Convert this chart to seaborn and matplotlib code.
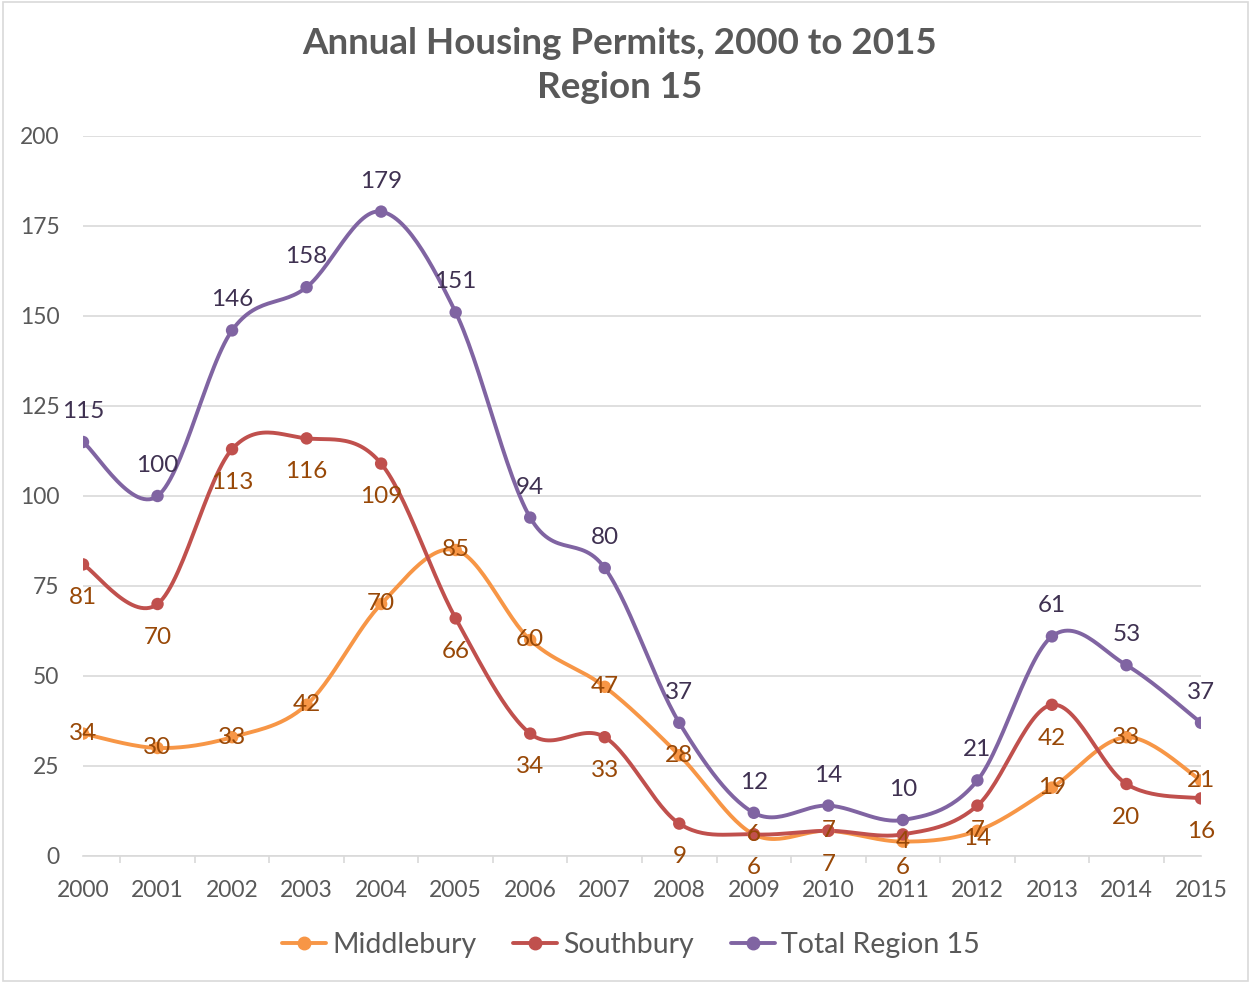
# Annual housing permits, Region 15
import numpy as np
import pandas as pd
import matplotlib
matplotlib.use('Agg')
import matplotlib.pyplot as plt
from matplotlib.lines import Line2D
from matplotlib.patches import Rectangle
import seaborn as sns

#Data
years = list(range(2000, 2016))
middlebury = [34, 30, 33, 42, 70, 85, 60, 47, 28, 6, 7, 4, 7, 19, 33, 21]
southbury = [81, 70, 113, 116, 109, 66, 34, 33, 9, 6, 7, 6, 14, 42, 20, 16]
total = [115, 100, 146, 158, 179, 151, 94, 80, 37, 12, 14, 10, 21, 61, 53, 37]
series_names = ['Middlebury', 'Southbury', 'Total Region 15']
colors = {'Middlebury': '#F79646', 'Southbury': '#C0504D', 'Total Region 15': '#8064A2'}
label_colors = {'Middlebury': '#984807', 'Southbury': '#984807', 'Total Region 15': '#3F3151'}
label_offset = {'Middlebury': 0, 'Southbury': -24, 'Total Region 15': 22}

df = pd.DataFrame({'year': years, 'Middlebury': middlebury,
                   'Southbury': southbury, 'Total Region 15': total})
long_df = df.melt(id_vars='year', var_name='series', value_name='permits')


#Smoothed line like Excel (Bezier through the points)
def smooth(x, y, n=30):
    pts = np.column_stack([x, y]).astype(float)
    P = np.vstack([pts[0], pts, pts[-1]])
    out = []
    t = np.linspace(0, 1, n)[:, None]
    for i in range(1, len(P) - 2):
        p0, p1, p2, p3 = P[i - 1], P[i], P[i + 1], P[i + 2]
        c1 = p1 + (p2 - p0) / 6
        c2 = p2 - (p3 - p1) / 6
        b = (1 - t)**3 * p1 + 3 * (1 - t)**2 * t * c1 + 3 * (1 - t) * t**2 * c2 + t**3 * p2
        out.append(b if i == 1 else b[1:])
    return np.vstack(out)


curves = []
for name in series_names:
    s = smooth(df['year'], df[name])
    curves.append(pd.DataFrame({'year': s[:, 0], 'permits': s[:, 1], 'series': name}))
curve_df = pd.concat(curves, ignore_index=True)


#Plot parameters
sns.set_style('white')
plt.rcParams['font.family'] = ['Lato', 'DejaVu Sans']

fig = plt.figure(figsize=(12.49, 9.83), dpi=100)
ax = fig.add_axes([83 / 1249, 1 - 856 / 983, (1201 - 83) / 1249, (856 - 136) / 983])

sns.lineplot(data=curve_df, x='year', y='permits', hue='series', palette=colors,
             sort=False, estimator=None, linewidth=2.8, legend=False, ax=ax, zorder=3)
sns.scatterplot(data=long_df, x='year', y='permits', hue='series', palette=colors,
                s=80, edgecolor='none', legend=False, ax=ax, zorder=4)

#Data labels
for name in series_names:
    for x, v in zip(years, df[name]):
        ax.annotate(str(v), (x, v), xytext=(0, label_offset[name]), textcoords='offset points',
                    ha='center', va='center', fontsize=17.5, color=label_colors[name], zorder=5)

ax.set_xlim(2000, 2015)
ax.set_ylim(0, 200)
ax.set_yticks(range(0, 201, 25))
ax.set_xticks(years)
ax.set_xticks(np.arange(2000.5, 2015, 1).tolist() + [2015], minor=True)
ax.set_xlabel('')
ax.set_ylabel('')
ax.grid(axis='y', color='#D9D9D9', linewidth=1.2)
ax.grid(axis='x', visible=False)
for side in ['top', 'right', 'left']:
    ax.spines[side].set_visible(False)
ax.spines['bottom'].set_color('#D9D9D9')
ax.spines['bottom'].set_linewidth(1.2)
ax.tick_params(axis='x', which='major', length=0, pad=17, labelsize=16.5, labelcolor='#595959')
ax.tick_params(axis='x', which='minor', length=5, color='#D9D9D9', width=1.2, direction='out', bottom=True)
ax.tick_params(axis='y', length=0, pad=17, labelsize=16.5, labelcolor='#595959')

fig.text(0.496, 1 - 44 / 983, 'Annual Housing Permits, 2000 to 2015', ha='center', va='center',
         fontsize=26.5, fontweight='bold', color='#595959')
fig.text(0.496, 1 - 88 / 983, 'Region 15', ha='center', va='center',
         fontsize=26.5, fontweight='bold', color='#595959')

#Legend
handles = [Line2D([0], [0], color=colors[n], linewidth=2.8, marker='o', markersize=9) for n in series_names]
fig.legend(handles, series_names, loc='center', bbox_to_anchor=(0.505, 1 - 945 / 983), ncol=3,
           frameon=False, fontsize=20.5, labelcolor='#595959', handlelength=1.55,
           handletextpad=0.2, columnspacing=1.3)

#Chart border
fig.patches.append(Rectangle((3 / 1249, 2 / 983), 1 - 4 / 1249, 1 - 4 / 983, transform=fig.transFigure,
                             fill=False, edgecolor='#D9D9D9', linewidth=1.2))

plt.savefig('out.png', dpi=100)
